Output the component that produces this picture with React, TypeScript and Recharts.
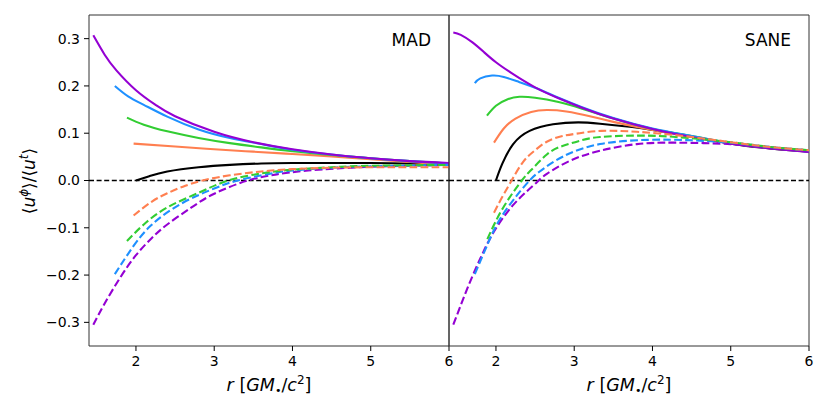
import { Line, LineChart, ReferenceArea, ReferenceLine, XAxis, YAxis } from 'recharts'

const violet = '#9400d3'
const blue = '#1e90ff'
const green = '#32cd32'
const coral = '#ff7f50'
const black = '#000000'

const font = 'DejaVu Sans, Verdana, sans-serif'

const xTicks = [2, 3, 4, 5, 6]
const yTicks = [-0.3, -0.2, -0.1, 0, 0.1, 0.2, 0.3]

// [r, <u^phi>/<u^t>]
// MAD, solid
const madBlack = [[2.0, 0.0], [2.17, 0.009], [2.4, 0.019], [2.8, 0.028], [3.2, 0.033], [3.6, 0.036], [4.0, 0.037], [5.0, 0.037], [6.0, 0.035]]
const madCoral = [[1.97, 0.078], [2.5, 0.072], [3.0, 0.066], [3.5, 0.061], [4.0, 0.056], [4.5, 0.051], [5.0, 0.045], [5.5, 0.039], [6.0, 0.033]]
const madGreen = [[1.885, 0.133], [2.1, 0.118], [2.4, 0.104], [2.8, 0.09], [3.2, 0.079], [3.6, 0.07], [4.0, 0.062], [4.5, 0.054], [5.0, 0.047], [5.5, 0.041], [6.0, 0.036]]
const madBlue = [[1.73, 0.2], [1.9, 0.178], [2.1, 0.16], [2.4, 0.135], [2.8, 0.108], [3.2, 0.09], [3.6, 0.077], [4.0, 0.065], [4.5, 0.055], [5.0, 0.047], [5.5, 0.041], [6.0, 0.036]]
const madViolet = [[1.455, 0.307], [1.6, 0.266], [1.75, 0.233], [2.0, 0.191], [2.25, 0.16], [2.5, 0.136], [3.0, 0.103], [3.5, 0.081], [4.0, 0.066], [4.5, 0.055], [5.0, 0.047], [5.5, 0.041], [6.0, 0.037]]

// MAD, dashed
const madCoralRetro = [[1.97, -0.074], [2.2, -0.045], [2.4, -0.027], [2.6, -0.013], [2.85, 0.0], [3.2, 0.011], [3.6, 0.019], [4.0, 0.024], [4.5, 0.027], [5.0, 0.028], [6.0, 0.028]]
const madGreenRetro = [[1.885, -0.128], [2.1, -0.093], [2.4, -0.057], [2.8, -0.026], [3.18, 0.0], [3.6, 0.015], [4.0, 0.023], [4.5, 0.028], [5.0, 0.031], [6.0, 0.033]]
const madBlueRetro = [[1.73, -0.198], [1.9, -0.155], [2.18, -0.097], [2.6, -0.047], [3.0, -0.017], [3.3, 0.0], [3.7, 0.014], [4.0, 0.021], [4.5, 0.027], [5.0, 0.03], [6.0, 0.033]]
const madVioletRetro = [[1.455, -0.305], [1.6, -0.26], [1.8, -0.205], [2.0, -0.158], [2.2, -0.122], [2.4, -0.093], [2.7, -0.058], [3.0, -0.028], [3.43, 0.0], [3.8, 0.013], [4.2, 0.021], [5.0, 0.029], [6.0, 0.033]]

// SANE, solid
const saneBlack = [[2.0, 0.0], [2.08, 0.035], [2.22, 0.077], [2.43, 0.105], [2.73, 0.119], [3.05, 0.123], [3.33, 0.12], [3.74, 0.113], [4.0, 0.107], [4.5, 0.093], [5.0, 0.078], [5.5, 0.068], [6.0, 0.061]]
const saneCoral = [[1.975, 0.08], [2.1, 0.11], [2.25, 0.131], [2.45, 0.145], [2.65, 0.149], [2.9, 0.146], [3.2, 0.136], [3.5, 0.124], [4.0, 0.107], [4.5, 0.093], [5.0, 0.079], [5.5, 0.069], [6.0, 0.062]]
const saneGreen = [[1.885, 0.137], [2.0, 0.158], [2.15, 0.172], [2.3, 0.177], [2.5, 0.175], [2.8, 0.166], [3.1, 0.152], [3.5, 0.131], [4.0, 0.109], [4.5, 0.094], [5.0, 0.079], [5.5, 0.069], [6.0, 0.062]]
const saneBlue = [[1.73, 0.206], [1.8, 0.216], [1.95, 0.222], [2.1, 0.219], [2.3, 0.208], [2.5, 0.196], [2.8, 0.175], [3.1, 0.155], [3.5, 0.132], [4.0, 0.11], [4.5, 0.094], [5.0, 0.079], [5.5, 0.069], [6.0, 0.061]]
const saneViolet = [[1.455, 0.313], [1.55, 0.308], [1.7, 0.292], [1.85, 0.271], [2.0, 0.25], [2.2, 0.227], [2.5, 0.197], [2.8, 0.174], [3.1, 0.154], [3.5, 0.131], [4.0, 0.109], [4.5, 0.092], [5.0, 0.078], [5.5, 0.068], [6.0, 0.06]]

// SANE, dashed
const saneCoralRetro = [[1.975, -0.068], [2.08, -0.035], [2.2, 0.0], [2.35, 0.04], [2.5, 0.064], [2.65, 0.082], [2.85, 0.094], [3.07, 0.1], [3.35, 0.105], [3.8, 0.103], [4.4, 0.094], [5.0, 0.081], [5.5, 0.071], [6.0, 0.064]]
const saneGreenRetro = [[1.89, -0.124], [2.09, -0.058], [2.33, 0.0], [2.45, 0.022], [2.65, 0.055], [2.85, 0.073], [3.07, 0.084], [3.33, 0.092], [3.8, 0.095], [4.3, 0.092], [5.0, 0.081], [5.5, 0.071], [6.0, 0.064]]
const saneBlueRetro = [[1.73, -0.198], [1.9, -0.132], [2.05, -0.082], [2.27, -0.031], [2.43, 0.0], [2.55, 0.018], [2.86, 0.051], [3.33, 0.077], [3.95, 0.086], [4.5, 0.085], [5.0, 0.08], [5.5, 0.071], [6.0, 0.064]]
const saneVioletRetro = [[1.455, -0.305], [1.65, -0.222], [1.8, -0.165], [1.92, -0.124], [2.06, -0.086], [2.23, -0.05], [2.4, -0.022], [2.52, -0.004], [2.65, 0.014], [2.95, 0.042], [3.33, 0.063], [3.8, 0.077], [4.3, 0.08], [5.0, 0.077], [5.5, 0.07], [6.0, 0.064]]

type Series = { key: string; color: string; dashed: boolean; points: number[][] }

const madSeries: Series[] = [
  { key: 'black', color: black, dashed: false, points: madBlack },
  { key: 'coral', color: coral, dashed: false, points: madCoral },
  { key: 'green', color: green, dashed: false, points: madGreen },
  { key: 'blue', color: blue, dashed: false, points: madBlue },
  { key: 'violet', color: violet, dashed: false, points: madViolet },
  { key: 'violetRetro', color: violet, dashed: true, points: madVioletRetro },
  { key: 'blueRetro', color: blue, dashed: true, points: madBlueRetro },
  { key: 'greenRetro', color: green, dashed: true, points: madGreenRetro },
  { key: 'coralRetro', color: coral, dashed: true, points: madCoralRetro },
]

const saneSeries: Series[] = [
  { key: 'black', color: black, dashed: false, points: saneBlack },
  { key: 'coral', color: coral, dashed: false, points: saneCoral },
  { key: 'green', color: green, dashed: false, points: saneGreen },
  { key: 'blue', color: blue, dashed: false, points: saneBlue },
  { key: 'violet', color: violet, dashed: false, points: saneViolet },
  { key: 'violetRetro', color: violet, dashed: true, points: saneVioletRetro },
  { key: 'blueRetro', color: blue, dashed: true, points: saneBlueRetro },
  { key: 'greenRetro', color: green, dashed: true, points: saneGreenRetro },
  { key: 'coralRetro', color: coral, dashed: true, points: saneCoralRetro },
]

function toRows(points: number[][]) {
  return points.map(([r, v]) => ({ r, v }))
}

function yLabel(v: number) {
  return v.toFixed(1).replace('-', '\u2212')
}

const tickStyle = { fontSize: 14, fill: '#000', fontFamily: font }

function Panel({
  series,
  left,
  width,
  yAxisWidth,
  showYLabels,
}: {
  series: Series[]
  left: number
  width: number
  yAxisWidth: number
  showYLabels: boolean
}) {
  return (
    <div style={{ position: 'absolute', left, top: 0 }}>
      <LineChart width={width} height={415} margin={{ top: 15, right: 11, bottom: 0, left: 0 }}>
        <XAxis
          dataKey="r"
          type="number"
          domain={[1.4, 6]}
          ticks={xTicks}
          allowDataOverflow
          axisLine={false}
          tickLine={{ stroke: '#000' }}
          tickSize={5}
          tickMargin={5}
          tick={tickStyle}
          interval={0}
          height={69}
        />
        <YAxis
          type="number"
          domain={[-0.35, 0.35]}
          ticks={yTicks}
          allowDataOverflow
          axisLine={false}
          tickLine={{ stroke: '#000' }}
          tickSize={5}
          tickMargin={4}
          tick={showYLabels ? tickStyle : false}
          tickFormatter={yLabel}
          interval={0}
          width={yAxisWidth}
        />
        <ReferenceLine y={0} stroke="#000" strokeWidth={1.3} strokeDasharray="5 2.6" />
        {series.map((s) => (
          <Line
            key={s.key}
            data={toRows(s.points)}
            dataKey="v"
            type="natural"
            stroke={s.color}
            strokeWidth={2.1}
            strokeDasharray={s.dashed ? '7.7 3.3' : undefined}
            dot={false}
            activeDot={false}
            isAnimationActive={false}
          />
        ))}
        <ReferenceArea
          x1={1.4}
          x2={6}
          y1={-0.35}
          y2={0.35}
          fill="none"
          fillOpacity={0}
          stroke="#333"
          strokeWidth={1}
        />
      </LineChart>
    </div>
  )
}

function XLabel({ cx }: { cx: number }) {
  return (
    <text x={cx} y={391} textAnchor="middle" fontSize={17.5} fontFamily={font} fill="#000">
      <tspan fontStyle="italic">r</tspan>
      <tspan> [</tspan>
      <tspan fontStyle="italic">GM</tspan>
      <tspan fontSize={11} dy={3}>•</tspan>
      <tspan dy={-3}>/</tspan>
      <tspan fontStyle="italic">c</tspan>
      <tspan fontSize={12} dy={-7}>2</tspan>
      <tspan dy={7}>]</tspan>
    </text>
  )
}

export default function App() {
  return (
    <div style={{ position: 'absolute', left: 0, top: 0, width: 830, height: 415, background: '#fff' }}>
      <Panel series={madSeries} left={0} width={460} yAxisWidth={89} showYLabels />
      <Panel series={saneSeries} left={439} width={381} yAxisWidth={10} showYLabels={false} />
      <svg
        width={830}
        height={415}
        style={{ position: 'absolute', left: 0, top: 0, pointerEvents: 'none' }}
      >
        <text x={431} y={46} textAnchor="end" fontSize={17} fontFamily={font} fill="#000">
          MAD
        </text>
        <text x={791} y={46} textAnchor="end" fontSize={17} fontFamily={font} fill="#000">
          SANE
        </text>
        <XLabel cx={269} />
        <XLabel cx={629} />
        <text
          transform="translate(35,181) rotate(-90)"
          textAnchor="middle"
          fontSize={17}
          fontFamily={font}
          fill="#000"
        >
          <tspan>⟨</tspan>
          <tspan fontStyle="italic">u</tspan>
          <tspan fontSize={12} dy={-7} fontStyle="italic">ϕ</tspan>
          <tspan dy={7}>⟩/⟨</tspan>
          <tspan fontStyle="italic">u</tspan>
          <tspan fontSize={12} dy={-7} fontStyle="italic">t</tspan>
          <tspan dy={7}>⟩</tspan>
        </text>
      </svg>
    </div>
  )
}
